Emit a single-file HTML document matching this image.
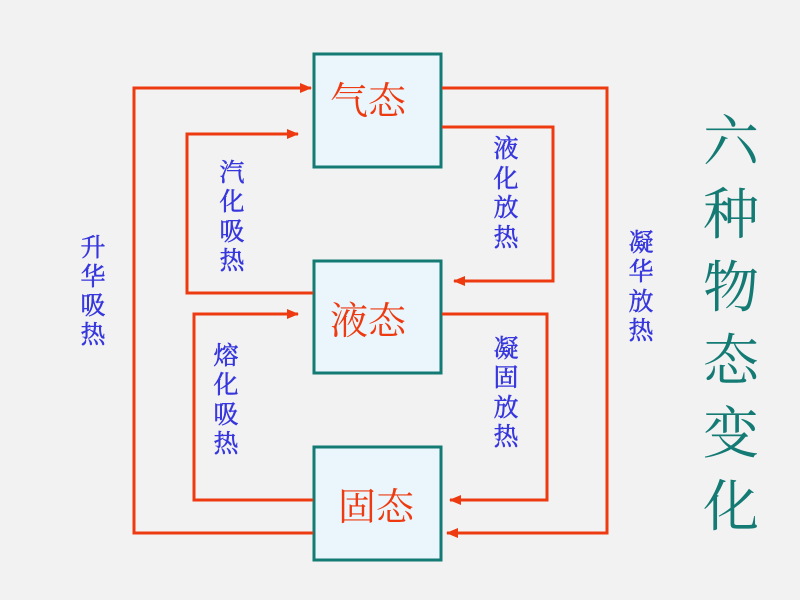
<!DOCTYPE html>
<html><head><meta charset="utf-8"><style>
html,body{margin:0;padding:0;background:#f2f2f2;}
svg{display:block}
text{font-family:"Liberation Serif","Noto Serif CJK SC","Noto Sans CJK SC",serif;}
</style></head><body>
<svg width="800" height="600" viewBox="0 0 800 600" xmlns="http://www.w3.org/2000/svg">
<rect width="800" height="600" fill="#f2f2f2"/>
<defs>
<marker id="a" markerWidth="12" markerHeight="10" refX="11" refY="5" orient="auto" markerUnits="userSpaceOnUse">
<path d="M0,0 L12,5 L0,10 z" fill="#ee3a10"/>
</marker>
</defs>
<g fill="#eaf6fc" stroke="#137a74" stroke-width="3">
<rect x="314" y="54" width="127" height="113"/>
<rect x="314" y="261" width="127" height="112"/>
<rect x="314" y="447" width="127" height="113"/>
</g>
<g fill="none" stroke="#ee3a10" stroke-width="3">
<polyline points="313,533 134,533 134,88 311,88" marker-end="url(#a)"/>
<polyline points="313,293 187,293 187,134 298,134" marker-end="url(#a)"/>
<polyline points="313,500 194,500 194,314 298,314" marker-end="url(#a)"/>
<polyline points="442,88 607,88 607,533 447,533" marker-end="url(#a)"/>
<polyline points="442,127 553,127 553,281 454,281" marker-end="url(#a)"/>
<polyline points="442,314 547,314 547,500 450,500" marker-end="url(#a)"/>
</g>
<g fill="#ee3a10" font-size="38">
<text x="330" y="114">气态</text>
<text x="330" y="334">液态</text>
<text x="338" y="520">固态</text>
</g>
<g fill="#3636dd" stroke="#3636dd" stroke-width="0.5" font-size="25" text-anchor="middle">
<text x="93" y="256">升</text><text x="93" y="285">华</text><text x="93" y="314">吸</text><text x="93" y="343">热</text>
<text x="232" y="181">汽</text><text x="232" y="210">化</text><text x="232" y="240">吸</text><text x="232" y="269">热</text>
<text x="506" y="157">液</text><text x="506" y="187">化</text><text x="506" y="216">放</text><text x="506" y="246">热</text>
<text x="226" y="364">熔</text><text x="226" y="393">化</text><text x="226" y="423">吸</text><text x="226" y="452">热</text>
<text x="506" y="357">凝</text><text x="506" y="386">固</text><text x="506" y="416">放</text><text x="506" y="445">热</text>
<text x="641" y="251">凝</text><text x="641" y="280">华</text><text x="641" y="310">放</text><text x="641" y="339">热</text>
</g>
<g fill="#137a74" font-size="56" text-anchor="middle">
<text x="731" y="161">六</text>
<text x="731" y="234">种</text>
<text x="731" y="307">物</text>
<text x="731" y="380">态</text>
<text x="731" y="453">变</text>
<text x="731" y="526">化</text>
</g>
</svg>
</body></html>
